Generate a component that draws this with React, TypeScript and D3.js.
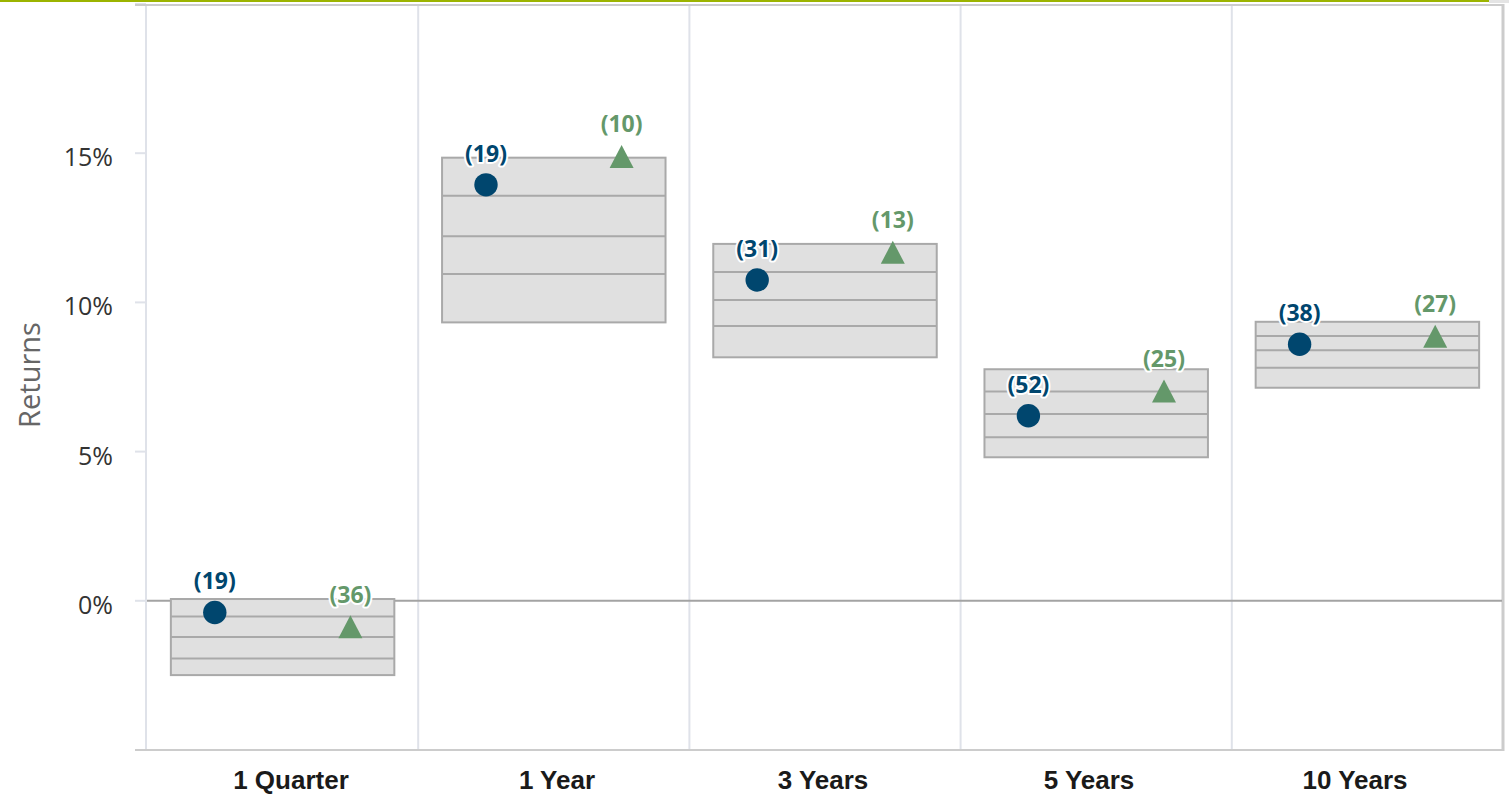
import React from 'react';
import * as d3 from 'd3';

const categories = ['1 Quarter', '1 Year', '3 Years', '5 Years', '10 Years'];
// percentile bands: 5th, 25th, median, 75th, 95th
const p05 = [0.06, 14.85, 11.96, 7.76, 9.35];
const p25 = [-0.53, 13.57, 11.02, 7.01, 8.87];
const p50 = [-1.21, 12.22, 10.08, 6.26, 8.4];
const p75 = [-1.93, 10.95, 9.21, 5.48, 7.81];
const p95 = [-2.49, 9.33, 8.16, 4.81, 7.14];
const fundReturns = [-0.39, 13.94, 10.75, 6.2, 8.6];
const fundRanks = [19, 19, 31, 52, 38];
const benchReturns = [-1.0, 14.76, 11.55, 6.9, 8.74];
const benchRanks = [36, 10, 13, 25, 27];
const yTicks = [-5, 0, 5, 10, 15, 20];
const yLabelTicks = [0, 5, 10, 15];

const W = 1509;
const H = 796;
const plot = { left: 147, right: 1503, top: 4, bottom: 750 };

const BLUE = '#00466e';
const GREEN = '#64986a';

// triangle 24 wide, 23 tall, centred on its centroid
const triangle = {
  draw(ctx: any) {
    const h = 23, hw = 12;
    ctx.moveTo(0, -(2 * h) / 3);
    ctx.lineTo(hw, h / 3);
    ctx.lineTo(-hw, h / 3);
    ctx.closePath();
  },
};

export default function App() {
  const x = d3.scaleBand<string>().domain(categories).range([plot.left, plot.right]);
  const labelX = d3.scaleBand<string>().domain(categories).range([158, 1488]);
  const y = d3.scaleLinear().domain([-5, 20]).range([plot.bottom, plot.top]);
  const bw = x.bandwidth();
  const inner = d3.scaleBand<string>().domain(['fund', 'bench']).range([0, bw]);
  const boxPad = bw * 0.088;
  const triPath = d3.symbol(triangle as any)() as string;

  const halo = { stroke: '#fff', strokeWidth: 4, paintOrder: 'stroke' as const, strokeLinejoin: 'round' as const };

  return (
    <div style={{ position: 'absolute', left: 0, top: 0 }}>
      <svg width={W} height={H} style={{ display: 'block', background: '#fff' }}>
        <rect x={0} y={0} width={1489} height={2} fill="#9cb400" />
        <rect x={1489} y={0} width={20} height={3} fill="#e4e4e4" />

        {/* vertical grid */}
        {categories.slice(1).map((c) => (
          <line key={c} x1={x(c)!} x2={x(c)!} y1={plot.top} y2={plot.bottom} stroke="#dfe2e9" strokeWidth={2} />
        ))}
        <line x1={plot.left - 1} x2={plot.left - 1} y1={plot.top} y2={plot.bottom} stroke="#dfe2e9" strokeWidth={2} />

        {/* y ticks */}
        {yTicks.map((t) => (
          <line key={t} x1={135} x2={plot.left - 1} y1={y(t)} y2={y(t)} stroke="#dfe2e9" strokeWidth={2} />
        ))}
        {yLabelTicks.map((t) => (
          <text key={t} x={113} y={y(t) + 13} textAnchor="end" fontFamily="'Open Sans', sans-serif" fontSize={25} fill="#333">
            {t}%
          </text>
        ))}
        <text
          transform={`translate(40, ${y(7.5) - 2}) rotate(-90)`}
          textAnchor="middle"
          fontFamily="'Open Sans', sans-serif"
          fontSize={29}
          fill="#666"
        >
          Returns
        </text>

        {/* frame */}
        <line x1={135} x2={plot.right + 1} y1={plot.top + 1} y2={plot.top + 1} stroke="#cccccc" strokeWidth={2} />
        <line x1={135} x2={plot.right + 1} y1={plot.bottom} y2={plot.bottom} stroke="#cccccc" strokeWidth={2} />
        <line x1={plot.right} x2={plot.right} y1={plot.top} y2={plot.bottom + 1} stroke="#cccccc" strokeWidth={3} />

        {/* zero line */}
        <line x1={plot.left} x2={plot.right - 1} y1={y(0)} y2={y(0)} stroke="#a3a3a3" strokeWidth={2} />

        {/* percentile boxes */}
        {categories.map((c, i) => {
          const x0 = x(c)! + boxPad;
          const x1 = x(c)! + bw - boxPad;
          return (
            <g key={c}>
              <rect x={x0} y={y(p05[i])} width={x1 - x0} height={y(p95[i]) - y(p05[i])} fill="#e0e0e0" stroke="#a9a9a9" strokeWidth={2} />
              {[p25[i], p50[i], p75[i]].map((v, k) => (
                <line key={k} x1={x0} x2={x1} y1={y(v)} y2={y(v)} stroke="#a9a9a9" strokeWidth={2} />
              ))}
            </g>
          );
        })}

        {/* markers */}
        {categories.map((c, i) => {
          const fx = x(c)! + inner('fund')! + inner.bandwidth() / 2;
          const bx = x(c)! + inner('bench')! + inner.bandwidth() / 2;
          return (
            <g key={c}>
              <circle cx={fx} cy={y(fundReturns[i])} r={11.7} fill={BLUE} />
              <path d={triPath} transform={`translate(${bx}, ${y(benchReturns[i])})`} fill={GREEN} />
            </g>
          );
        })}

        {/* rank labels */}
        {categories.map((c, i) => {
          const fx = x(c)! + inner('fund')! + inner.bandwidth() / 2;
          const bx = x(c)! + inner('bench')! + inner.bandwidth() / 2;
          return (
            <g key={c} fontFamily="'Open Sans', sans-serif" fontWeight={700} fontSize={23} textAnchor="middle">
              <text x={fx} y={y(fundReturns[i]) - 23} fill={BLUE} {...halo}>
                ({fundRanks[i]})
              </text>
              <text x={bx} y={y(benchReturns[i]) - 28} fill={GREEN} {...halo}>
                ({benchRanks[i]})
              </text>
            </g>
          );
        })}

        {/* category labels */}
        {categories.map((c) => (
          <text
            key={c}
            x={labelX(c)! + labelX.bandwidth() / 2}
            y={789}
            textAnchor="middle"
            fontFamily="'Liberation Sans', Arial, sans-serif"
            fontWeight={700}
            fontSize={26}
            fill="#1a1a1a"
          >
            {c}
          </text>
        ))}
      </svg>
    </div>
  );
}
